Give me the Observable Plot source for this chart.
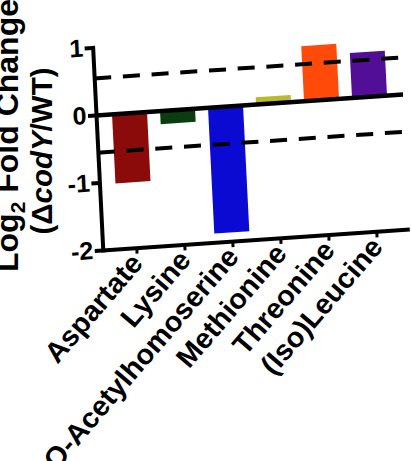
<!DOCTYPE html>
<html>
<head>
<meta charset="utf-8">
<script src="https://cdn.jsdelivr.net/npm/d3@7"></script>
<script src="https://cdn.jsdelivr.net/npm/@observablehq/plot@0.6"></script>
<style>
  html, body { margin: 0; padding: 0; background: white; }
  #chart { width: 411px; height: 461px; overflow: hidden; }
</style>
</head>
<body>
<div id="chart"></div>
<script>
const categories = ["Aspartate", "Lysine", "O-Acetylhomoserine", "Methionine", "Threonine", "(Iso)Leucine"];
const values = [-1.03, -0.2, -1.87, 0.1, 0.81, 0.66];
const colors = ["#8b0a0a", "#0b3d10", "#0a0ad2", "#b8bb2c", "#ff4a0a", "#520e96"];
const thresholds = [0.55, -0.55];
const yTicks = [-2, -1, 0, 1];

const data = categories.map((c, i) => ({category: c, value: values[i], color: colors[i]}));

const font = "'Liberation Sans', Arial, sans-serif";

const chart = Plot.plot({
  width: 411,
  height: 461,
  marginLeft: 96,
  marginRight: 8,
  marginTop: 47.5,
  marginBottom: 211,
  style: {fontFamily: font, fontWeight: "bold", background: "white", color: "black", overflow: "visible"},
  x: {domain: categories, paddingInner: 0.27, paddingOuter: 0.33, label: null},
  y: {domain: [-2, 1], label: null},
  color: {type: "identity"},
  marks: [
    Plot.barY(data, {x: "category", y: "value", fill: "color"}),
    Plot.ruleY(thresholds, {stroke: "black", strokeWidth: 4, strokeDasharray: "17,11.7"}),
    Plot.ruleY([0], {stroke: "black", strokeWidth: 4.5}),
    Plot.ruleY([-2], {stroke: "black", strokeWidth: 4}),
    Plot.frame({anchor: "left", stroke: "black", strokeWidth: 4}),
    Plot.axisY({ticks: yTicks, tickSize: 8, tickPadding: 2, fontSize: 25, strokeWidth: 4, tickFormat: d => String(d), label: null}),
    Plot.axisX({tickSize: 6, tickPadding: 4, tickRotate: -46, fontSize: 28.5, strokeWidth: 3, label: null})
  ]
});

document.getElementById("chart").appendChild(chart);

// apply the photographed skew of the original figure to the whole plot
const svg = d3.select(chart);
const g = svg.insert("g", ":first-child")
  .attr("transform", "translate(96,115) matrix(1,-0.068,0.05,1,0,0) translate(-96,-115)");
const kids = Array.from(chart.childNodes).filter(n => n !== g.node() && n.nodeName !== "style");
kids.forEach(n => g.node().appendChild(n));

// y-axis title (two lines)
const t1 = svg.append("text")
  .attr("transform", "translate(18,272) rotate(-90)")
  .attr("text-anchor", "start")
  .style("font-family", font).style("font-weight", "bold").style("font-size", "32px")
  .attr("fill", "black");
t1.append("tspan").text("Log");
t1.append("tspan").attr("dy", 7).style("font-size", "21px").text("2");
t1.append("tspan").attr("dy", -7).text(" Fold Change");

const t2 = svg.append("text")
  .attr("transform", "translate(52,151) rotate(-90)")
  .attr("text-anchor", "middle")
  .style("font-family", font).style("font-weight", "bold").style("font-size", "29.5px")
  .attr("fill", "black");
t2.append("tspan").text("(\u0394");
t2.append("tspan").style("font-style", "italic").text("codY");
t2.append("tspan").text("/WT)");
</script>
</body>
</html>
